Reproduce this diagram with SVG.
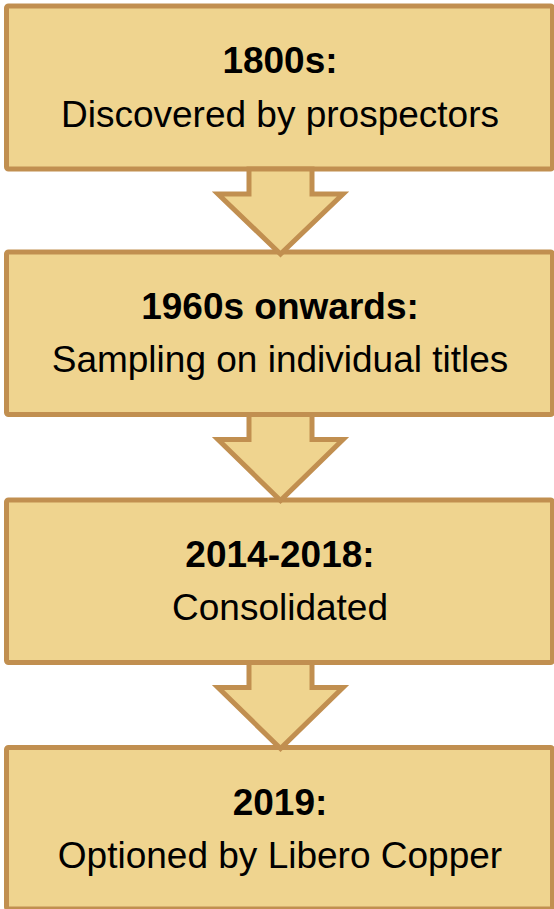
<svg xmlns="http://www.w3.org/2000/svg" width="554" height="909" viewBox="0 0 554 909">
<style>
.box{fill:#EFD48F;stroke:#C18F50;stroke-width:5}
.arrow{fill:#EFD48F;stroke:#C18F50;stroke-width:5;stroke-linejoin:miter}
text{font-family:"Liberation Sans",Arial,sans-serif;font-size:37px;fill:#000;text-anchor:middle}
.t{font-weight:bold}
</style>
<rect width="554" height="909" fill="#fff"/>
<g id="node1">
<rect class="box" x="6.5" y="6" width="546" height="163" rx="2"/>
<text class="t" x="280" y="73">1800s:</text>
<text x="280" y="127">Discovered by prospectors</text>
</g>
<g id="node2">
<rect class="box" x="6.5" y="252" width="546" height="162.5" rx="2"/>
<text class="t" x="280" y="319">1960s onwards:</text>
<text x="280" y="372">Sampling on individual titles</text>
</g>
<g id="node3">
<rect class="box" x="6.5" y="500" width="546" height="162.5" rx="2"/>
<text class="t" x="280" y="567">2014-2018:</text>
<text x="280" y="619.5">Consolidated</text>
</g>
<g id="node4">
<rect class="box" x="6.5" y="747.5" width="546" height="161.5" rx="2"/>
<text class="t" x="280" y="815">2019:</text>
<text x="280" y="868">Optioned by Libero Copper</text>
</g>
<g id="connectors">
<polygon class="arrow" points="249,169 312,169 312,194 343,194 280.5,254 218,194 249,194"/>
<polygon class="arrow" points="249,414.5 312,414.5 312,439.5 343,439.5 280.5,500.5 218,439.5 249,439.5"/>
<polygon class="arrow" points="249,662.5 312,662.5 312,687.5 343,687.5 280.5,748.5 218,687.5 249,687.5"/>
</g>
</svg>
